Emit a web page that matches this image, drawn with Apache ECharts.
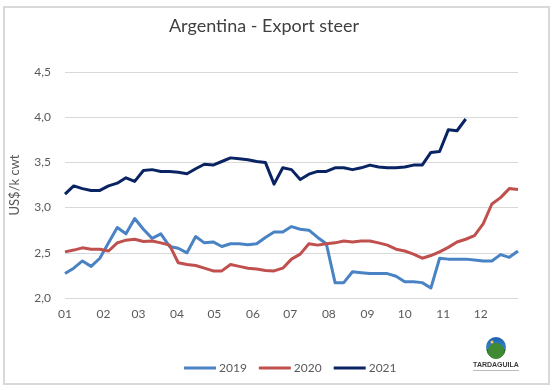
<!DOCTYPE html>
<html>
<head>
<meta charset="utf-8">
<script src="https://cdn.jsdelivr.net/npm/echarts@6/dist/echarts.min.js"></script>
<style>
html,body{margin:0;padding:0;background:#fff;}
#chart{width:553px;height:391px;}
</style>
</head>
<body>
<div id="chart"></div>
<script>
// Week offsets (days from 1 Jan) of the weekly observations
const weekDays = [0,7,14,21,28,35,42,49,56,63,70,77,84,91,98,105,112,119,126,133,140,147,154,161,168,175,182,189,196,203,210,217,224,231,238,245,252,259,266,273,280,287,294,301,308,315,322,329,336,343,350,357,364];
// Month tick positions (day of year) and labels
const monthStarts = [0,31,59,90,120,151,181,212,243,273,304,334];
const monthLabels = ['01','02','03','04','05','06','07','08','09','10','11','12'];
const yTicks = [2.0,2.5,3.0,3.5,4.0,4.5];

const s2019 = [2.27,2.33,2.41,2.35,2.44,2.61,2.78,2.71,2.88,2.76,2.66,2.71,2.57,2.55,2.50,2.68,2.61,2.62,2.57,2.60,2.60,2.59,2.60,2.67,2.73,2.73,2.79,2.76,2.75,2.67,2.60,2.17,2.17,2.29,2.28,2.27,2.27,2.27,2.24,2.18,2.18,2.17,2.11,2.44,2.43,2.43,2.43,2.42,2.41,2.41,2.48,2.45,2.52];
const s2020 = [2.51,2.53,2.555,2.54,2.54,2.52,2.61,2.64,2.65,2.625,2.63,2.61,2.585,2.39,2.37,2.36,2.33,2.30,2.30,2.37,2.35,2.33,2.32,2.305,2.30,2.33,2.43,2.485,2.60,2.585,2.60,2.61,2.63,2.62,2.63,2.63,2.61,2.585,2.54,2.52,2.485,2.44,2.47,2.51,2.56,2.62,2.65,2.69,2.82,3.04,3.11,3.21,3.20];
const s2021 = [3.15,3.24,3.21,3.19,3.19,3.24,3.27,3.33,3.29,3.41,3.42,3.40,3.40,3.39,3.375,3.43,3.48,3.47,3.51,3.55,3.54,3.53,3.51,3.50,3.26,3.44,3.42,3.31,3.37,3.40,3.40,3.44,3.44,3.42,3.44,3.47,3.45,3.44,3.44,3.45,3.47,3.47,3.61,3.62,3.86,3.85,3.98];

const seriesNames = ['2019','2020','2021'];
const seriesColors = ['#4a83c3','#c0504d','#0a2463'];
const seriesValues = [s2019, s2020, s2021];

function pairs(vals){ return vals.map((v,i)=>[weekDays[i], v]); }

const chart = echarts.init(document.getElementById('chart'), null, {renderer:'canvas'});
const FONT = 'Lato, "Open Sans", sans-serif';

chart.setOption({
  animation:false,
  backgroundColor:'#fff',
  title:{
    text:'Argentina - Export steer',
    left:259, top:12, textAlign:'center',
    textStyle:{fontFamily:FONT, fontSize:18, fontWeight:'normal', color:'#404040'}
  },
  grid:{left:64, right:35, top:72, bottom:93, containLabel:false},
  legend:{
    left:179, top:357,
    itemWidth:32, itemHeight:3, itemGap:12,
    icon:'rect',
    textStyle:{fontFamily:FONT, fontSize:12, color:'#595959', padding:[0,0,0,-2]},
    data:seriesNames
  },
  xAxis:{
    type:'value', min:0, max:364,
    axisLine:{show:false}, axisTick:{show:false}, splitLine:{show:false},
    axisLabel:{
      customValues:monthStarts,
      formatter:function(v){ const k=monthStarts.indexOf(v); return k>=0?monthLabels[k]:''; },
      fontFamily:FONT, fontSize:12, color:'#595959', margin:10
    }
  },
  yAxis:{
    type:'value', min:2, max:4.5, interval:0.5,
    name:'US$/k cwt', nameLocation:'middle', nameGap:44, nameRotate:90,
    nameTextStyle:{fontFamily:FONT, fontSize:13, color:'#595959'},
    axisLine:{show:false}, axisTick:{show:false},
    splitLine:{lineStyle:{color:'#d9d9d9', width:1}},
    axisLabel:{
      formatter:function(v){ return v.toFixed(1).replace('.',','); },
      fontFamily:FONT, fontSize:12, color:'#595959', margin:14
    }
  },
  series: seriesNames.map((n,k)=>({
    name:n, type:'line', data:pairs(seriesValues[k]),
    showSymbol:false, symbol:'none',
    lineStyle:{width:3, color:seriesColors[k], join:'round'},
    itemStyle:{color:seriesColors[k]}
  })),
  graphic:[
    {type:'rect', shape:{x:4, y:7, width:545, height:377}, style:{fill:'none', stroke:'#d9d9d9', lineWidth:2}, silent:true, z:-1},
    {type:'group', left:473, top:337, children:[
      {type:'circle', shape:{cx:25, cy:10, r:10}, style:{fill:new echarts.graphic.LinearGradient(0,0,0,1,[{offset:0,color:'#1e5fb0'},{offset:1,color:'#4aa3e0'}])}},
      {type:'sector', shape:{cx:25, cy:12, r0:0, r:9.5, startAngle:Math.PI, endAngle:2*Math.PI, clockwise:false}, style:{fill:'#2e6b2a'}},
      {type:'circle', shape:{cx:25, cy:14, r:8}, style:{fill:'#3f8a32'}},
      {type:'circle', shape:{cx:21, cy:5, r:1.5}, style:{fill:'#f4d03f'}},
      {type:'text', x:25, y:25, style:{text:'TARDAGUILA', fontSize:7, fontWeight:'bold', fontFamily:'"Liberation Sans", sans-serif', fill:'#3a3a3a', align:'center'}},
      {type:'rect', shape:{x:2, y:33, width:46, height:1}, style:{fill:'#bbbbbb'}}
    ]}
  ]
});
</script>
</body>
</html>
